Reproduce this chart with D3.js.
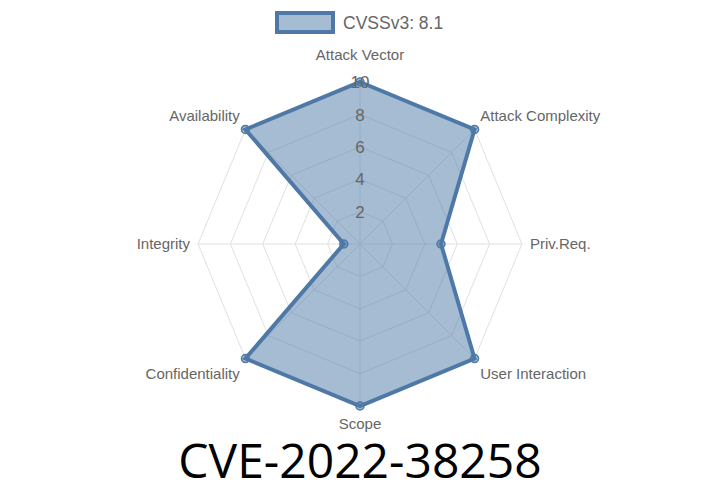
<!DOCTYPE html>
<html><head><meta charset="utf-8">
<script src="https://cdn.jsdelivr.net/npm/d3@7"></script>
<style>body{margin:0;background:#fff}svg{display:block}</style>
</head><body>
<svg id="c" width="720" height="504"></svg>
<script>
const categories = ["Attack Vector","Attack Complexity","Priv.Req.","User Interaction","Scope","Confidentiality","Integrity","Availability"];
const values = [10,10,5,10,10,10,1,10];
const tickValues = [2,4,6,8,10];
const seriesLabel = "CVSSv3: 8.1";
const title = "CVE-2022-38258";

const svg = d3.select("#c");
const cx = 360, cy = 244, R = 162;
const r = d3.scaleLinear().domain([0,10]).range([0,R]);
const n = categories.length;
const ang = i => -Math.PI/2 + i*2*Math.PI/n;
const pt = (i,v) => [cx + r(v)*Math.cos(ang(i)), cy + r(v)*Math.sin(ang(i))];
const stroke = "rgb(78,121,167)";
const fill = "rgba(78,121,167,0.5)";
const font = "Liberation Sans, Arial, sans-serif";

const g = svg.append("g");
tickValues.forEach(t=>{
  g.append("polygon").attr("points", d3.range(n).map(i=>pt(i,t).join(",")).join(" "))
   .attr("fill","none").attr("stroke","#e0e0e0").attr("stroke-width",1);
});
d3.range(n).forEach(i=>{
  const [x,y]=pt(i,10);
  g.append("line").attr("x1",cx).attr("y1",cy).attr("x2",x).attr("y2",y)
   .attr("stroke","#e0e0e0").attr("stroke-width",1);
});

svg.append("polygon").attr("points", values.map((v,i)=>pt(i,v).join(",")).join(" "))
  .attr("fill",fill).attr("stroke",stroke).attr("stroke-width",4).attr("stroke-linejoin","miter");
values.forEach((v,i)=>{
  const [x,y]=pt(i,v);
  svg.append("circle").attr("cx",x).attr("cy",y).attr("r",4)
    .attr("fill",fill).attr("stroke",stroke).attr("stroke-width",1.5);
});

tickValues.forEach(t=>{
  svg.append("text").attr("x",cx).attr("y",cy - r(t)).attr("dy","0.36em")
    .attr("text-anchor","middle").attr("font-family",font)
    .attr("font-size",17).attr("fill","#666").text(t);
});

categories.forEach((c,i)=>{
  const a = ang(i);
  const cosA = Math.cos(a), sinA = Math.sin(a);
  let x, y, anchor;
  if (Math.abs(cosA) < 0.01) {
    anchor = "middle"; x = cx;
    y = sinA < 0 ? cy - R - 27 : cy + R + 18;
  } else if (Math.abs(sinA) < 0.01) {
    anchor = cosA > 0 ? "start" : "end";
    x = cx + (R + 8) * cosA; y = cy;
  } else {
    anchor = cosA > 0 ? "start" : "end";
    x = cx + (R + 8) * cosA;
    y = sinA < 0 ? cy - 128 * Math.abs(sinA) / Math.SQRT1_2 : cy + 130 * Math.abs(sinA) / Math.SQRT1_2;
  }
  svg.append("text").attr("x",x).attr("y",y).attr("dy","0.35em")
    .attr("text-anchor",anchor).attr("font-family",font)
    .attr("font-size",15).attr("fill","#666").text(c);
});

svg.append("rect").attr("x",277).attr("y",13).attr("width",56).attr("height",19)
  .attr("fill",fill).attr("stroke",stroke).attr("stroke-width",4);
svg.append("text").attr("x",343).attr("y",23).attr("dy","0.36em")
  .attr("font-family",font).attr("font-size",17.5)
  .attr("fill","#666").text(seriesLabel);

svg.append("text").attr("x",360).attr("y",478).attr("text-anchor","middle")
  .attr("font-family","Open Sans, Noto Sans, sans-serif").attr("font-size",48)
  .attr("fill","#000").text(title);
</script>
</body></html>
